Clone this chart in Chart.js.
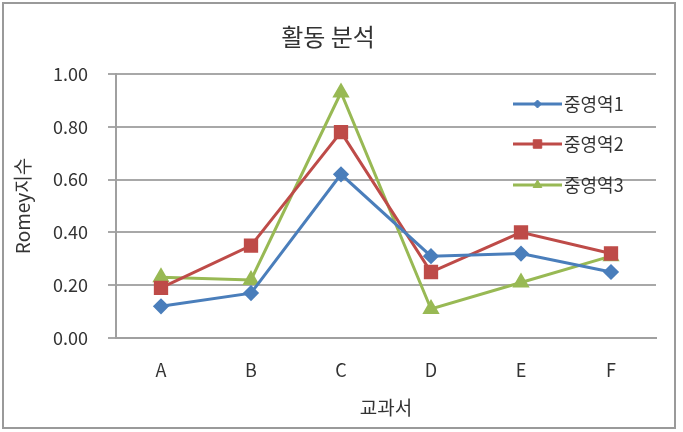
<!DOCTYPE html>
<html>
<head>
<meta charset="utf-8">
<script src="https://cdn.jsdelivr.net/npm/chart.js@4/dist/chart.umd.min.js"></script>
<style>
  html, body { margin: 0; padding: 0; background: #fff; }
  #wrap { width: 683px; height: 432px; }
</style>
</head>
<body>
<div id="wrap"><canvas id="chart" width="683" height="432"></canvas></div>
<script>
const categories = ['A', 'B', 'C', 'D', 'E', 'F'];
const seriesNames = ['중영역1', '중영역2', '중영역3'];
const series1 = [0.12, 0.17, 0.62, 0.31, 0.32, 0.25];
const series2 = [0.19, 0.35, 0.78, 0.25, 0.40, 0.32];
const series3 = [0.23, 0.22, 0.93, 0.11, 0.21, 0.31];
const yTicks = [0, 0.2, 0.4, 0.6, 0.8, 1.0];

const FONT = "'Noto Sans CJK KR', 'Noto Sans', sans-serif";
const colors = ['#4a7ebb', '#be4b48', '#98b954'];
const shapes = ['rectRot', 'rect', 'triangle'];
const radii = [6, 8, 7];
const legendRadii = [4, 6, 5];

// frame around the whole chart, like the Excel chart border
const framePlugin = {
    id: 'frame',
    beforeDraw(chart) {
        const ctx = chart.ctx;
        ctx.save();
        ctx.fillStyle = '#fff';
        ctx.fillRect(0, 0, chart.width, chart.height);
        ctx.strokeStyle = '#9a9a9a';
        ctx.lineWidth = 2;
        ctx.strokeRect(3, 3, 672, 425);
        ctx.restore();
    }
};

// legend drawn inside the plot area (top right)
const insideLegend = {
    id: 'insideLegend',
    afterDraw(chart) {
        const ctx = chart.ctx;
        const x0 = 513, x1 = 562;
        const rows = [104, 144, 185];
        ctx.save();
        chart.data.datasets.forEach((ds, i) => {
            const y = rows[i];
            ctx.strokeStyle = ds.borderColor;
            ctx.fillStyle = ds.borderColor;
            ctx.lineWidth = 3;
            ctx.beginPath();
            ctx.moveTo(x0, y);
            ctx.lineTo(x1, y);
            ctx.stroke();
            ctx.lineWidth = 1;
            Chart.helpers.drawPoint(ctx, {
                pointStyle: ds.pointStyle,
                radius: legendRadii[i],
                borderWidth: 1
            }, (x0 + x1) / 2, y);
            ctx.fillStyle = '#333';
            ctx.font = '18px ' + FONT;
            ctx.textBaseline = 'middle';
            ctx.textAlign = 'left';
            ctx.fillText(ds.label, x1 + 2, y);
        });
        ctx.restore();
    }
};

const allSeries = [series1, series2, series3];
const datasets = allSeries.map((vals, i) => ({
    label: seriesNames[i],
    data: vals,
    borderColor: colors[i],
    backgroundColor: colors[i],
    pointBackgroundColor: colors[i],
    pointBorderColor: colors[i],
    borderWidth: 3,
    pointStyle: shapes[i],
    pointRadius: radii[i],
    tension: 0
}));

new Chart(document.getElementById('chart'), {
    type: 'line',
    data: { labels: categories, datasets: datasets },
    options: {
        responsive: false,
        animation: false,
        layout: { padding: { left: 0, right: 27, top: 0, bottom: 0 } },
        plugins: {
            legend: { display: false },
            tooltip: { enabled: false },
            title: {
                display: true,
                text: '활동 분석',
                color: '#333',
                font: { family: FONT, size: 24, weight: 'normal' },
                padding: { top: 22.6, bottom: 22.6 }
            }
        },
        scales: {
            x: {
                offset: true,
                grid: { display: false, drawTicks: false },
                border: { display: true, color: '#a0a0a0', width: 2 },
                ticks: {
                    color: '#333',
                    font: { family: FONT, size: 18 },
                    padding: 21,
                    maxRotation: 0
                },
                title: {
                    display: true,
                    text: '교과서',
                    color: '#333',
                    font: { family: FONT, size: 19 },
                    padding: { top: 0, bottom: 13 }
                },
                afterFit(scale) { scale.height = 94; }
            },
            y: {
                min: 0,
                max: 1,
                afterBuildTicks(scale) { scale.ticks = yTicks.map(v => ({ value: v })); },
                grid: { color: '#a8a8a8', lineWidth: 2, tickLength: 8 },
                border: { display: true, color: '#a0a0a0', width: 2 },
                ticks: {
                    color: '#333',
                    font: { family: FONT, size: 18 },
                    padding: 20,
                    callback: v => Number(v).toFixed(2)
                },
                title: {
                    display: true,
                    text: 'Romey지수',
                    color: '#333',
                    font: { family: FONT, size: 19 },
                    padding: { top: 11, bottom: 0 }
                },
                afterFit(scale) { scale.width = 116; }
            }
        }
    },
    plugins: [framePlugin, insideLegend]
});
</script>
</body>
</html>
